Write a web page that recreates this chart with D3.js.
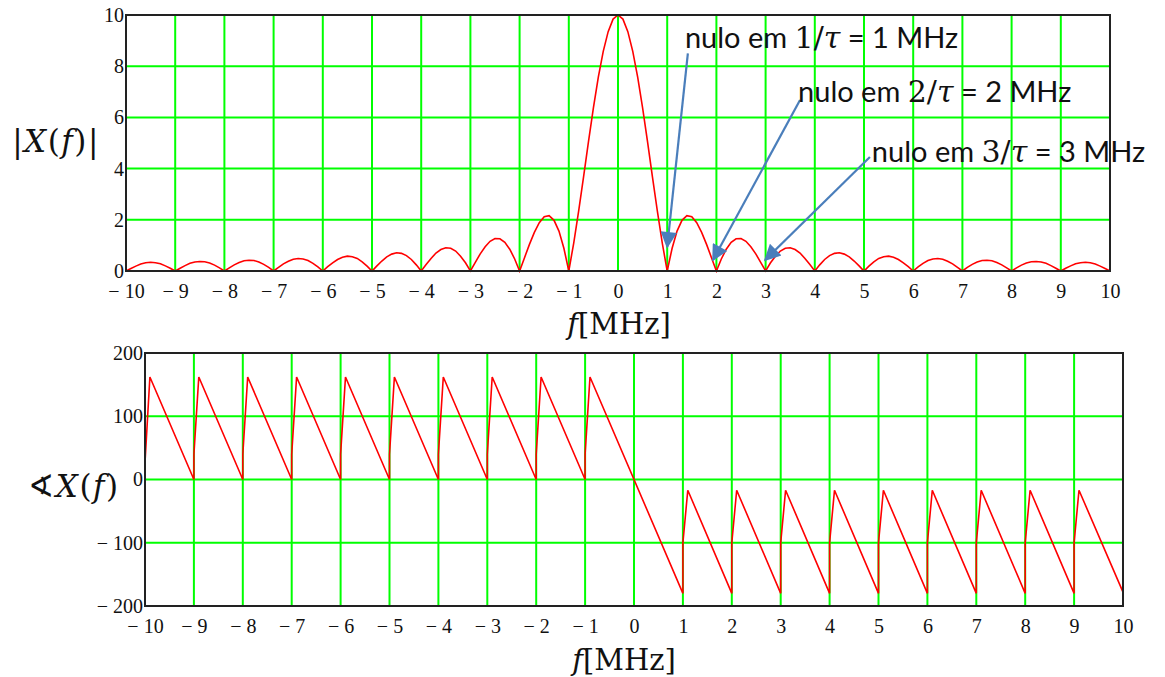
<!DOCTYPE html>
<html>
<head>
<meta charset="utf-8">
<script src="https://cdnjs.cloudflare.com/ajax/libs/d3/7.8.5/d3.min.js"></script>
<style>
  body { margin: 0; background: #fff; }
  svg { display: block; }
  .tick text { font-family: "Liberation Serif", "Times New Roman", serif; font-size: 20px; fill: #111; }
</style>
</head>
<body>
<div id="chart"></div>
<script>
// frequency grid, 0.1 MHz step (Mathcad sampling)
var magF = d3.range(-100, 101).map(function(i) { return i / 10; });

// |X(f)|, -10 .. 10 MHz
var magVal = [
  0,    0.10, 0.19, 0.27, 0.32, 0.34, 0.32, 0.28, 0.20, 0.11,
  0,    0.11, 0.21, 0.30, 0.35, 0.37, 0.36, 0.31, 0.23, 0.12,
  0,    0.12, 0.24, 0.33, 0.40, 0.42, 0.41, 0.35, 0.26, 0.14,
  0,    0.14, 0.28, 0.38, 0.46, 0.49, 0.47, 0.41, 0.30, 0.16,
  0,    0.17, 0.32, 0.45, 0.54, 0.58, 0.56, 0.49, 0.36, 0.19,
  0,    0.20, 0.39, 0.55, 0.66, 0.71, 0.69, 0.60, 0.45, 0.24,
  0,    0.25, 0.49, 0.70, 0.84, 0.91, 0.89, 0.78, 0.58, 0.32,
  0,    0.34, 0.67, 0.95, 1.16, 1.27, 1.26, 1.12, 0.85, 0.47,
  0,    0.52, 1.04, 1.51, 1.89, 2.12, 2.16, 1.98, 1.56, 0.89,
  0,    1.09, 2.34, 3.68, 5.05, 6.37, 7.57, 8.58, 9.35, 9.84,
  10,
  9.84, 9.35, 8.58, 7.57, 6.37, 5.05, 3.68, 2.34, 1.09, 0,
  0.89, 1.56, 1.98, 2.16, 2.12, 1.89, 1.51, 1.04, 0.52, 0,
  0.47, 0.85, 1.12, 1.26, 1.27, 1.16, 0.95, 0.67, 0.34, 0,
  0.32, 0.58, 0.78, 0.89, 0.91, 0.84, 0.70, 0.49, 0.25, 0,
  0.24, 0.45, 0.60, 0.69, 0.71, 0.66, 0.55, 0.39, 0.20, 0,
  0.19, 0.36, 0.49, 0.56, 0.58, 0.54, 0.45, 0.32, 0.17, 0,
  0.16, 0.30, 0.41, 0.47, 0.49, 0.46, 0.38, 0.28, 0.14, 0,
  0.14, 0.26, 0.35, 0.41, 0.42, 0.40, 0.33, 0.24, 0.12, 0,
  0.12, 0.23, 0.31, 0.36, 0.37, 0.35, 0.30, 0.21, 0.11, 0,
  0.11, 0.20, 0.28, 0.32, 0.34, 0.32, 0.27, 0.19, 0.10, 0
];

// phase (degrees): corner points of the saw-tooth in the lower plot
var phaseF = [-10, -9.9, -9, -9, -8.9, -8, -8, -7.9, -7, -7, -6.9, -6, -6, -5.9,
  -5, -5, -4.9, -4, -4, -3.9, -3, -3, -2.9, -2, -2, -1.9, -1, -1, -0.9,
  1, 1, 1.1, 2, 2, 2.1, 3, 3, 3.1, 4, 4, 4.1, 5, 5, 5.1,
  6, 6, 6.1, 7, 7, 7.1, 8, 8, 8.1, 9, 9, 9.1, 10];
var phaseDeg = [27, 162, 0, 40, 162, 0, 40, 162, 0, 40, 162, 0, 40, 162,
  0, 40, 162, 0, 40, 162, 0, 40, 162, 0, 40, 162, 0, 40, 162,
  -180, -100, -17, -180, -100, -17, -180, -100, -17, -180, -100, -17, -180, -100, -17,
  -180, -100, -17, -180, -100, -17, -180, -100, -17, -180, -100, -17, -178];

var fTicks = d3.range(-10, 11);
var magTicks = [0, 2, 4, 6, 8, 10];
var phaseTicks = [-200, -100, 0, 100, 200];

// annotations on the upper plot (data coordinates)
var noteNum   = ["1", "2", "3"];
var noteTextF = [1.36, 3.66, 5.16];
var noteTextY = [8.71, 6.60, 4.26];
var noteTailF = [1.42, 3.70, 5.12];
var noteTailY = [8.50, 6.68, 4.45];
var noteTipF  = [1.00, 1.93, 2.99];
var noteTipY  = [0.94, 0.43, 0.43];

var W = 1165, H = 677;
var svg = d3.select("#chart").append("svg")
            .attr("width", W)
            .attr("height", H);

var defs = svg.append("defs");
defs.append("marker")
    .attr("id", "head")
    .attr("viewBox", "0 0 10 10")
    .attr("refX", 9).attr("refY", 5)
    .attr("markerWidth", 9).attr("markerHeight", 7.5)
    .attr("markerUnits", "strokeWidth")
    .attr("orient", "auto")
  .append("path")
    .attr("d", "M0,0 L10,5 L0,10 Z")
    .attr("fill", "#4a7ebb");

var fmt = function(d) { return d < 0 ? "\u2212 " + Math.abs(d) : d; };

function panel(x0, x1, y0, y1, yDomain, yTicks) {
  var x = d3.scaleLinear().domain([-10, 10]).range([x0, x1]);
  var y = d3.scaleLinear().domain(yDomain).range([y1, y0]);
  var g = svg.append("g");

  // green grid
  g.append("g").selectAll("line").data(fTicks).enter().append("line")
    .attr("x1", x).attr("x2", x).attr("y1", y0).attr("y2", y1)
    .attr("stroke", "#00ff00").attr("stroke-width", 2);
  g.append("g").selectAll("line").data(yTicks).enter().append("line")
    .attr("x1", x0).attr("x2", x1).attr("y1", y).attr("y2", y)
    .attr("stroke", "#00ff00").attr("stroke-width", 2);

  // tick labels via axes
  var ax = g.append("g").attr("transform", "translate(0," + y1 + ")")
    .call(d3.axisBottom(x).tickValues(fTicks).tickSize(0).tickPadding(13).tickFormat(fmt));
  var ay = g.append("g").attr("transform", "translate(" + x0 + ",0)")
    .call(d3.axisLeft(y).tickValues(yTicks).tickSize(0).tickPadding(2).tickFormat(fmt));
  ax.select(".domain").remove();
  ay.select(".domain").remove();

  return { x: x, y: y, g: g, x0: x0, x1: x1, y0: y0, y1: y1 };
}

function frame(p) {
  p.g.append("rect")
    .attr("x", p.x0).attr("y", p.y0)
    .attr("width", p.x1 - p.x0).attr("height", p.y1 - p.y0)
    .attr("fill", "none").attr("stroke", "#222").attr("stroke-width", 2);
}

// ---- upper plot: magnitude
var magP = panel(126, 1110, 15, 271, [0, 10], magTicks);
var magLine = d3.line()
  .x(function(d, i) { return magP.x(magF[i]); })
  .y(function(d) { return magP.y(d); });
magP.g.append("path").datum(magVal)
  .attr("d", magLine)
  .attr("fill", "none").attr("stroke", "#ff0000").attr("stroke-width", 1.6);
frame(magP);

// ---- lower plot: phase
var phP = panel(145, 1123, 353, 606, [-200, 200], phaseTicks);
var phLine = d3.line()
  .x(function(d, i) { return phP.x(phaseF[i]); })
  .y(function(d) { return phP.y(d); });
phP.g.append("path").datum(phaseDeg)
  .attr("d", phLine)
  .attr("fill", "none").attr("stroke", "#ff0000").attr("stroke-width", 1.6);
frame(phP);

// ---- axis titles
var mathFont = "'DejaVu Serif', serif";
function mathLabel(xc, yb, parts, size, gap) {
  var t = svg.append("text")
    .attr("x", xc).attr("y", yb)
    .attr("text-anchor", "middle")
    .attr("font-family", mathFont)
    .attr("font-size", size)
    .attr("letter-spacing", gap || 0)
    .attr("fill", "#111");
  parts.forEach(function(p) {
    t.append("tspan").text(p[0]).attr("font-style", p[1] ? "italic" : "normal");
  });
}
mathLabel(56, 152, [["|", 0], ["X", 1], ["(", 0], ["f", 1], [")", 0], ["|", 0]], 31, 1.5);
mathLabel(74, 497, [["\u2222", 0], ["X", 1], ["(", 0], ["f", 1], [")", 0]], 31, 1.5);
mathLabel(619, 334, [["f", 1], ["[MHz]", 0]], 29);
mathLabel(624, 670, [["f", 1], ["[MHz]", 0]], 29);

// ---- annotations
noteNum.forEach(function(n, i) {
  svg.append("line")
    .attr("x1", magP.x(noteTailF[i])).attr("y1", magP.y(noteTailY[i]))
    .attr("x2", magP.x(noteTipF[i])).attr("y2", magP.y(noteTipY[i]))
    .attr("stroke", "#4a7ebb").attr("stroke-width", 2.2)
    .attr("marker-end", "url(#head)");

  var t = svg.append("text")
    .attr("x", magP.x(noteTextF[i])).attr("y", magP.y(noteTextY[i]))
    .attr("font-family", "Lato, 'Open Sans', sans-serif")
    .attr("font-size", 29)
    .attr("fill", "#111");
  t.append("tspan").text("nulo em ");
  t.append("tspan").text(n + "/").attr("font-family", mathFont).attr("font-size", 30);
  t.append("tspan").text("\u03c4").attr("font-family", mathFont).attr("font-size", 30).attr("font-style", "italic");
  t.append("tspan").text(" = " + n + " MHz");
});
</script>
</body>
</html>
